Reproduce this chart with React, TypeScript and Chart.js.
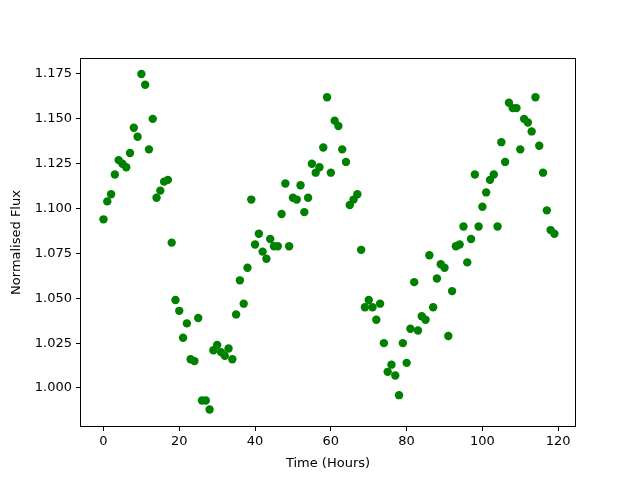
import React, { useEffect, useRef } from "react";
import { Chart, registerables } from "chart.js";

Chart.register(...registerables);

const hours: number[] = Array.from({ length: 120 }, (_, i) => i);
const flux: number[] = [
  1.094, 1.104, 1.108, 1.119, 1.127, 1.125, 1.123, 1.131, 1.145, 1.140,
  1.175, 1.169, 1.133, 1.150, 1.106, 1.110, 1.115, 1.116, 1.081, 1.049,
  1.043, 1.028, 1.036, 1.016, 1.015, 1.039, 0.993, 0.993, 0.988, 1.021,
  1.024, 1.020, 1.018, 1.022, 1.016, 1.041, 1.060, 1.047, 1.067, 1.105,
  1.080, 1.086, 1.076, 1.072, 1.083, 1.079, 1.079, 1.097, 1.114, 1.079,
  1.106, 1.105, 1.113, 1.098, 1.106, 1.125, 1.120, 1.123, 1.134, 1.162,
  1.120, 1.149, 1.146, 1.133, 1.126, 1.102, 1.105, 1.108, 1.077, 1.045,
  1.049, 1.045, 1.038, 1.047, 1.025, 1.009, 1.013, 1.007, 0.996, 1.025,
  1.014, 1.033, 1.059, 1.032, 1.040, 1.038, 1.074, 1.045, 1.061, 1.069,
  1.067, 1.029, 1.054, 1.079, 1.080, 1.090, 1.070, 1.083, 1.119, 1.090,
  1.101, 1.109, 1.116, 1.119, 1.090, 1.137, 1.126, 1.159, 1.156, 1.156,
  1.133, 1.150, 1.148, 1.143, 1.162, 1.135, 1.120, 1.099, 1.088, 1.086,
];
const xTicks: number[] = [0, 20, 40, 60, 80, 100, 120];
const yTicks: number[] = [1.0, 1.025, 1.05, 1.075, 1.1, 1.125, 1.15, 1.175];

const FONT = "'DejaVu Sans', sans-serif";

const framePlugin = {
  id: "frame",
  afterDraw(chart: any) {
    const { ctx, chartArea } = chart;
    ctx.save();
    ctx.strokeStyle = "#000";
    ctx.lineWidth = 1;
    ctx.strokeRect(
      Math.round(chartArea.left) + 0.5,
      Math.round(chartArea.top) + 0.5,
      Math.round(chartArea.right - chartArea.left) - 1,
      Math.round(chartArea.bottom - chartArea.top) - 1
    );
    ctx.restore();
  },
};

export default function App() {
  const ref = useRef<HTMLCanvasElement>(null);
  useEffect(() => {
    if (!ref.current) return;
    const chart = new Chart(ref.current, {
      type: "scatter",
      data: {
        datasets: [
          {
            data: hours.map((h, i) => ({ x: h, y: flux[i] })),
            backgroundColor: "#008000",
            borderColor: "#008000",
            pointRadius: 4.2,
            pointHoverRadius: 4.2,
            borderWidth: 0,
          },
        ],
      },
      options: {
        responsive: false,
        animation: false,
        events: [],
        layout: { padding: { top: 58, right: 64, left: 0, bottom: 0 } },
        plugins: { legend: { display: false }, tooltip: { enabled: false } },
        scales: {
          x: {
            type: "linear",
            min: -6.2,
            max: 124.7,
            afterBuildTicks: (axis: any) => {
              axis.ticks = xTicks.map((v) => ({ value: v }));
            },
            afterFit: (axis: any) => {
              axis.height = 53;
            },
            grid: {
              drawOnChartArea: false,
              drawTicks: true,
              tickLength: 4,
              tickColor: "#000",
            },
            border: { display: false },
            ticks: {
              color: "#000",
              font: { family: FONT, size: 13 },
              padding: 3,
              maxRotation: 0,
              callback: (v: any) => String(v),
            },
            title: {
              display: true,
              text: "Time (Hours)",
              color: "#000",
              font: { family: FONT, size: 13 },
              padding: { top: 0, bottom: 9 },
            },
          },
          y: {
            type: "linear",
            min: 0.97826,
            max: 1.18391,
            afterBuildTicks: (axis: any) => {
              axis.ticks = yTicks.map((v) => ({ value: v }));
            },
            afterFit: (axis: any) => {
              axis.width = 80;
            },
            grid: {
              drawOnChartArea: false,
              drawTicks: true,
              tickLength: 4,
              tickColor: "#000",
            },
            border: { display: false },
            ticks: {
              color: "#000",
              font: { family: FONT, size: 13 },
              padding: 4,
              callback: (v: any) => Number(v).toFixed(3),
            },
            title: {
              display: true,
              text: "Normalised Flux",
              color: "#000",
              font: { family: FONT, size: 13 },
              padding: { top: 9, bottom: 0 },
            },
          },
        },
      },
      plugins: [framePlugin],
    });
    return () => chart.destroy();
  }, []);
  return (
    <div style={{ position: "fixed", left: 0, top: 0, width: 640, height: 480, background: "#fff" }}>
      <canvas ref={ref} width={640} height={480} style={{ display: "block" }} />
    </div>
  );
}
